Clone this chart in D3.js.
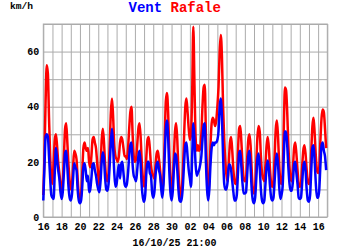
<!DOCTYPE html>
<html><head><meta charset="utf-8">
<script src="https://cdn.jsdelivr.net/npm/d3@7"></script>
<style>body{margin:0;background:#fff}svg{display:block}</style>
</head><body><svg id="c" width="350" height="250"></svg>
<script>
// ---- data (3-hourly, from 16/09/2025 00:00 UTC) ----
const startDate = Date.UTC(2025, 8, 16);
const endDate = Date.UTC(2025, 9, 17);
const stepHours = 3;
const yTicks = [0, 20, 40, 60];
const yMax = 70;
const unitLabel = "km/h";
const titleVent = "Vent";
const titleRafale = "Rafale";
const footer = "16/10/25 21:00";

const vent = [
  6, 18, 29, 30, 29, 22, 14, 8,
  7, 6.5, 16, 25, 21, 17, 14, 9,
  6.5, 9, 16, 23, 24, 18, 11, 7,
  6, 8, 14, 19.5, 18, 17, 10, 6,
  5, 6, 11, 18, 19.5, 17, 13, 15,
  9, 10, 14, 19, 19.5, 17, 15, 12,
  10, 9, 13, 20, 23.5, 21, 14, 10,
  9.5, 12, 19, 27, 32, 25, 16, 11,
  12, 16, 19, 14, 19, 20, 16, 12,
  11, 12, 16, 22, 26, 27, 19, 15,
  14, 13, 17, 22, 24, 19, 11, 7,
  5.5, 8, 16, 20, 20, 16, 15, 9,
  7, 9, 15, 19, 20, 17, 15, 10,
  7, 12, 22, 32, 35, 29, 17, 9,
  6, 9, 17, 23, 22, 17, 10, 6,
  5.5, 7, 12, 20, 26, 27, 22, 17,
  14, 11, 22, 34, 28, 19, 15, 16,
  17, 19, 22, 28, 33, 34, 20, 10,
  6, 10, 19, 25, 27, 26, 27, 27,
  28, 31, 40, 43, 36, 22, 12, 10,
  10, 13, 19, 19, 17, 13, 9, 6,
  6, 8, 16, 23, 24, 18, 12, 8.5,
  8.5, 9, 15, 22, 24, 18, 10, 6,
  5, 7, 14, 21, 23, 18, 10, 6,
  5, 6, 12, 18, 20.5, 17, 11, 7,
  6, 7, 13, 20, 23, 19, 11, 6.5,
  8, 11, 22, 31, 31, 26, 18, 12,
  9.5, 9.5, 13, 19, 20, 16, 12, 7,
  6.5, 7, 12, 18, 20, 17, 10, 6,
  5.5, 8, 17, 25, 26, 20, 12, 7,
  7, 10, 19, 26, 27, 24, 22, 17
];
const rafale = [
  8, 22, 42, 55, 52, 36, 22, 14,
  12, 20, 28, 30, 26, 20, 16, 12,
  10, 13, 22, 32, 34, 27, 19, 13,
  10, 12, 18, 24, 23, 21, 14, 8,
  6, 8, 16, 25, 27, 25, 24, 25,
  20, 18, 22, 28, 29, 27, 25, 20,
  15, 11, 18, 28, 32, 27, 19, 14,
  13, 16, 26, 38, 43, 36, 26, 22,
  21, 20, 22, 27, 29, 28, 25, 22,
  22, 21, 25, 32, 38, 40, 30, 22,
  20, 21, 26, 32, 34, 29, 20, 14,
  11, 14, 22, 28, 29, 25, 19, 16,
  15, 14, 19, 23, 24, 21, 17, 12,
  9, 15, 28, 42, 45, 38, 24, 14,
  10, 13, 22, 31, 34, 28, 17, 10,
  7, 10, 18, 30, 40, 43, 38, 32,
  28, 30, 45, 69, 48, 29, 24, 26,
  24, 25, 30, 40, 47, 48, 30, 15,
  8, 14, 26, 34, 36, 35, 33, 35,
  40, 47, 60, 66, 58, 40, 28, 20,
  15, 13, 20, 27, 29, 24, 17, 13,
  12, 14, 24, 32, 33, 27, 19, 14,
  13, 14, 21, 28, 30, 26, 17, 10,
  8.5, 11, 20, 29, 33, 31, 22, 16,
  14, 13, 19, 26, 29, 25, 17, 12,
  11, 13, 22, 32, 35, 29, 19, 13,
  12, 16, 32, 47, 46, 38, 26, 18,
  14, 13, 18, 25, 27, 23, 17, 12,
  11, 12, 18, 24, 26, 23, 17, 13,
  12, 14, 24, 33, 36, 30, 22, 17,
  16, 18, 28, 36, 39, 38, 32, 25
];

// ---- drawing ----
const svg = d3.select("#c");
const m = {l: 43.3, r: 327.3, t: 24, b: 217};
const FONT = "'Liberation Mono','DejaVu Sans Mono',monospace";
const GRID = "#ababab";

const x = d3.scaleUtc().domain([new Date(startDate), new Date(endDate)]).range([m.l, m.r]);
const y = d3.scaleLinear().domain([0, yMax]).range([m.b, m.t]);
const timeOf = i => new Date(startDate + i * stepHours * 3600e3);

// grid
const gy = svg.append("g").attr("transform", `translate(${m.l},0)`)
  .call(d3.axisLeft(y).ticks(7).tickSize(-(m.r - m.l)).tickFormat(""));
gy.select(".domain").remove();
gy.selectAll("line").attr("stroke", GRID).attr("stroke-width", 1);

const gx = svg.append("g").attr("transform", `translate(0,${m.b})`)
  .call(d3.axisBottom(x).ticks(d3.utcDay.every(1)).tickSize(-(m.b - m.t)).tickFormat(""));
gx.select(".domain").remove();
gx.selectAll("line").attr("stroke", GRID).attr("stroke-width", 1);

svg.append("rect").attr("x", m.l).attr("y", m.t).attr("width", m.r - m.l).attr("height", m.b - m.t)
  .attr("fill", "none").attr("stroke", GRID).attr("stroke-width", 1);

// lines
const line = d3.line().x((d, i) => x(timeOf(i))).y(d => y(d)).curve(d3.curveMonotoneX);
svg.append("path").datum(rafale).attr("d", line).attr("fill", "none")
  .attr("stroke", "#ff0000").attr("stroke-width", 2.5).attr("stroke-linejoin", "round");
svg.append("path").datum(vent).attr("d", line).attr("fill", "none")
  .attr("stroke", "#0000ff").attr("stroke-width", 2.5).attr("stroke-linejoin", "round");

// axis labels
const ly = svg.append("g").attr("transform", `translate(${m.l},0)`)
  .call(d3.axisLeft(y).tickValues(yTicks).tickSize(0).tickPadding(4));
ly.select(".domain").remove();
ly.selectAll("text").attr("font-family", FONT).attr("font-weight", "bold").attr("font-size", 10).attr("fill", "#000");

const xLabelDates = d3.utcDay.range(new Date(startDate), new Date(endDate), 2);
const lx = svg.append("g").attr("transform", `translate(0,${m.b})`)
  .call(d3.axisBottom(x).tickValues(xLabelDates).tickFormat(d3.utcFormat("%d")).tickSize(0));
lx.select(".domain").remove();
lx.selectAll("text").attr("y", 12.5).attr("dy", null)
  .attr("font-family", FONT).attr("font-weight", "bold").attr("font-size", 10).attr("fill", "#000");

// texts
svg.append("text").attr("x", 10).attr("y", 8.5).text(unitLabel)
  .attr("font-family", FONT).attr("font-weight", "bold").attr("font-size", 9.6).attr("fill", "#000");

const title = svg.append("text").attr("x", 128.5).attr("y", 12)
  .attr("font-family", FONT).attr("font-weight", "bold").attr("font-size", 14);
title.append("tspan").attr("fill", "#0000ff").text(titleVent);
title.append("tspan").attr("fill", "#ff0000").text(" " + titleRafale);

svg.append("text").attr("x", 174.5).attr("y", 246).attr("text-anchor", "middle").text(footer)
  .attr("font-family", FONT).attr("font-weight", "bold").attr("font-size", 10).attr("fill", "#000");
</script>
</body></html>
